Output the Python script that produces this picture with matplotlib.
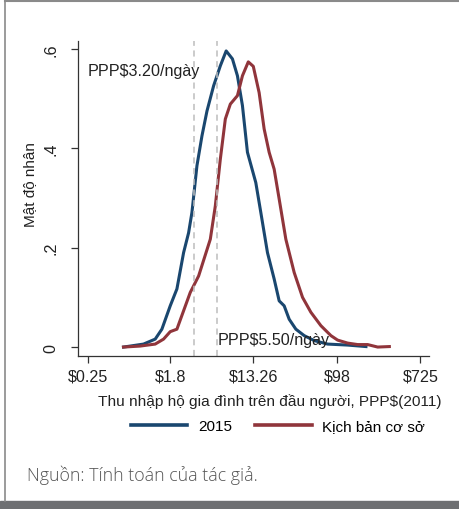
import numpy as np
import matplotlib
matplotlib.use("Agg")
import matplotlib.pyplot as plt
from matplotlib.lines import Line2D
from matplotlib.patches import Rectangle

# ---- data (x = natural log of daily per-capita income, PPP$ 2011) ----
ln_2015 = [-0.53, -0.05, 0.23, 0.39, 0.59, 0.75, 0.91, 1.03, 1.11, 1.23, 1.35, 1.47,
           1.63, 1.79, 1.93, 2.08, 2.20, 2.32, 2.44, 2.64, 2.76, 2.92, 3.08, 3.20,
           3.32, 3.44, 3.60, 3.80, 4.04, 4.36, 4.84, 5.28]
dens_2015 = [0.0, 0.006, 0.016, 0.036, 0.083, 0.117, 0.19, 0.23, 0.271, 0.365, 0.425, 0.475,
             0.526, 0.566, 0.596, 0.58, 0.546, 0.486, 0.392, 0.331, 0.271, 0.19, 0.137, 0.093,
             0.083, 0.056, 0.036, 0.023, 0.013, 0.006, 0.004, 0.001]

ln_base = [-0.53, -0.13, 0.23, 0.43, 0.59, 0.75, 0.91, 1.07, 1.27, 1.55, 1.67, 1.79,
           1.91, 2.03, 2.20, 2.32, 2.46, 2.58, 2.72, 2.84, 2.96, 3.08, 3.20, 3.36,
           3.56, 3.76, 3.96, 4.20, 4.44, 4.60, 4.84, 5.08, 5.32, 5.56, 5.84]
dens_base = [0.0, 0.002, 0.006, 0.016, 0.031, 0.036, 0.073, 0.11, 0.143, 0.217, 0.284, 0.378,
             0.459, 0.489, 0.506, 0.546, 0.574, 0.565, 0.512, 0.439, 0.392, 0.358, 0.298, 0.217,
             0.15, 0.10, 0.07, 0.043, 0.023, 0.014, 0.008, 0.005, 0.005, 0.0, 0.001]

poverty_lines = [3.20, 5.50]
poverty_labels = ["PPP$3.20/ngày", "PPP$5.50/ngày"]
xtick_values = [0.25, 1.8, 13.26, 98, 725]
xtick_labels = ["$0.25", "$1.8", "$13.26", "$98", "$725"]
ytick_values = [0, 0.2, 0.4, 0.6]
ytick_labels = ["0", ".2", ".4", ".6"]
series_names = ["2015", "Kịch bản cơ sở"]

plt.rcParams['font.family'] = ['Liberation Sans', 'DejaVu Sans']

W, H = 460, 510
fig = plt.figure(figsize=(W / 100, H / 100), dpi=100)
fig.patch.set_facecolor("white")

# frame and bottom bar
fig.add_artist(Line2D([4.5 / W, 4.5 / W], [8 / H, 1], color="#8a8a8a", lw=1.2,
                      transform=fig.transFigure))
fig.add_artist(Line2D([4.5 / W, 1], [1 - 1.5 / H, 1 - 1.5 / H], color="#8a8a8a", lw=1.5,
                      transform=fig.transFigure))
fig.add_artist(Rectangle((0, 0), 1, 8 / H, color="#6e6f72", transform=fig.transFigure))

ax = fig.add_axes([78 / W, 1 - 357 / H, (429 - 78) / W, (357 - 42) / H])
blue = "#1a476f"
red = "#90353b"
ax.plot(ln_2015, dens_2015, color=blue, lw=2.2, solid_joinstyle="round")
ax.plot(ln_base, dens_base, color=red, lw=2.2, solid_joinstyle="round")

for v in poverty_lines:
    ax.axvline(np.log(v), color="#bdbdbd", lw=1.1, ls=(0, (4, 3)))

ax.text(np.log(0.25), 0.557, poverty_labels[0], fontsize=11.6, color="#222222",
        va="center", ha="left")
ax.text(np.log(5.5) + 0.03, 0.015, poverty_labels[1], fontsize=11.6, color="#222222",
        va="center", ha="left")

ax.set_xlim(-1.62, 6.79)
ax.set_ylim(-0.018, 0.616)
ax.set_xticks(np.log(xtick_values))
ax.set_xticklabels(xtick_labels, fontsize=11.6, color="#222222")
ax.set_yticks(ytick_values)
ax.set_yticklabels(ytick_labels, fontsize=11.6, color="#222222", rotation=90, va="center")
for s in ["top", "right"]:
    ax.spines[s].set_visible(False)
for s in ["left", "bottom"]:
    ax.spines[s].set_color("#333333")
    ax.spines[s].set_linewidth(0.9)
ax.tick_params(length=5, width=0.9, color="#333333")
ax.tick_params(axis="x", pad=4)
ax.tick_params(axis="y", pad=9)

ax.set_xlabel("Thu nhập hộ gia đình trên đầu người, PPP$(2011)", fontsize=11.1,
              color="#222222", va="center", ha="center")
ax.xaxis.set_label_coords(0.547, (357 - 401.5) / 315)
ax.set_ylabel("Mật độ nhân", fontsize=11, color="#222222", va="center", ha="center")
ax.yaxis.set_label_coords((30 - 78) / 351, (357 - 185) / 315)

handles = [Line2D([], [], color=blue, lw=2.6), Line2D([], [], color=red, lw=2.6)]
fig.legend(handles, series_names, loc="center", bbox_to_anchor=(278 / W, 1 - 427 / H),
           ncol=2, frameon=False, fontsize=11, handlelength=3.7, columnspacing=1.5,
           handletextpad=0.7)

fig.text(27 / W, 1 - 475 / H, "Nguồn: Tính toán của tác giả.", fontsize=12.8,
         color="#555555", family=["Open Sans", "DejaVu Sans"], weight="light",
         va="center", ha="left")

fig.savefig("out.png", dpi=100, facecolor="white")
